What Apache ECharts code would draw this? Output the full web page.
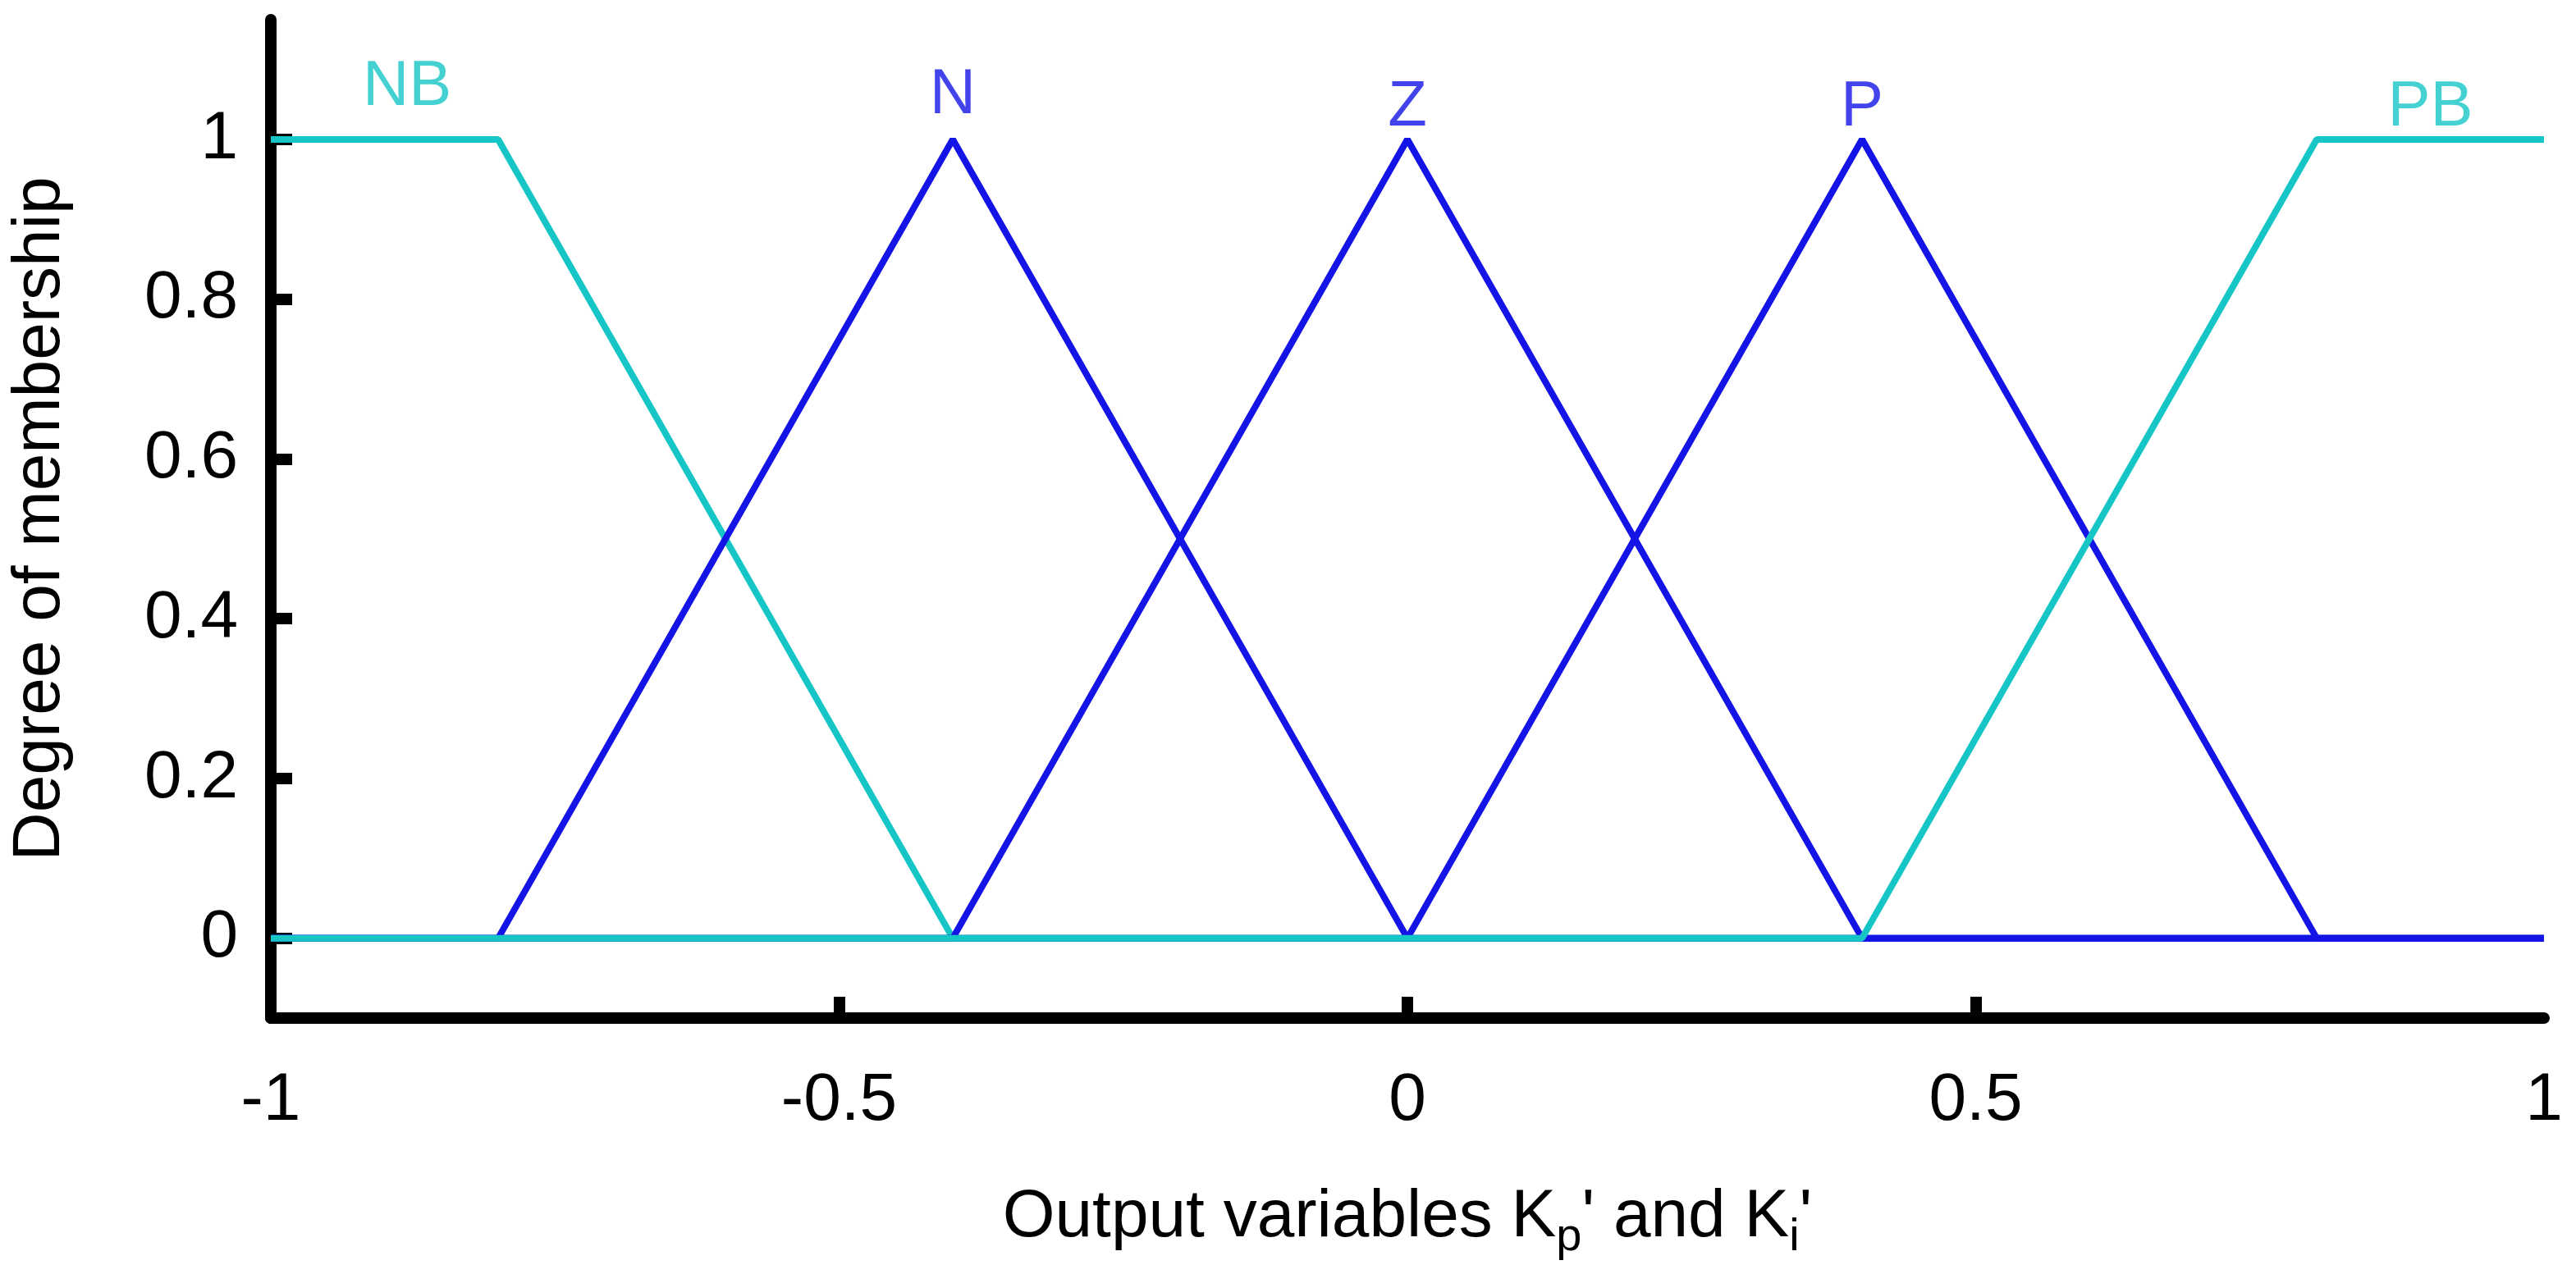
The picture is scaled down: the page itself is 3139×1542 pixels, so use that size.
<!DOCTYPE html><html><head><meta charset="utf-8">
<script src="https://cdn.jsdelivr.net/npm/echarts@6/dist/echarts.min.js"></script>
<style>html,body{margin:0;background:#fff}#c{width:3139px;height:1542px}</style></head><body><div id="c"></div>
<script>
const NB = [[-1,1],[-0.8,1],[-0.4,0],[1,0]];
const N  = [[-1,0],[-0.8,0],[-0.4,1],[0,0],[1,0]];
const Z  = [[-1,0],[-0.4,0],[0,1],[0.4,0],[1,0]];
const P  = [[-1,0],[0,0],[0.4,1],[0.8,0],[1,0]];
const PB = [[-1,0],[0.4,0],[0.8,1],[1,1]];
const labels = [['NB',-0.88,1.065,'cyan'],['N',-0.4,1.055,'blue'],['Z',0,1.04,'blue'],['P',0.4,1.04,'blue'],['PB',0.9,1.04,'cyan']];
const xTicks = [-1,-0.5,0,0.5,1];
const yTicks = [0,0.2,0.4,0.6,0.8,1];
const C = {cyan:'#16C6C6', blue:'#1414E6'};
const font = 'Liberation Sans, Arial, sans-serif';
function line(d,c){return {type:'line',data:d,symbol:'none',lineStyle:{color:C[c],width:8},silent:true};}
const chart = echarts.init(document.getElementById('c'));
chart.setOption({
  animation:false,
  grid:{left:316,right:39,top:24,bottom:292},
  xAxis:{type:'value',min:-1,max:1,
    axisLine:{show:true,onZero:false,lineStyle:{color:'#000',width:14}},
    axisTick:{show:true,inside:true,length:26,lineStyle:{color:'#000',width:14},customValues:[-0.5,0,0.5]},
    axisLabel:{customValues:xTicks,fontSize:82,color:'#000',fontFamily:font,margin:60},
    splitLine:{show:false},
    name:"{n|Output variables K}{s|p}{n|' and K}{s|i}{n|'}",nameLocation:'middle',nameGap:190,
    nameTextStyle:{rich:{n:{fontSize:82,color:'#000',fontFamily:font},s:{fontSize:56,color:'#000',fontFamily:font,padding:[50,0,0,0]}}}},
  yAxis:{type:'value',min:-0.1,max:1.15,
    axisLine:{show:true,onZero:false,lineStyle:{color:'#000',width:14}},
    axisTick:{show:true,inside:true,length:26,lineStyle:{color:'#000',width:14},customValues:yTicks},
    axisLabel:{customValues:yTicks,fontSize:82,color:'#000',fontFamily:font,margin:40},
    splitLine:{show:false},
    name:'Degree of membership',nameLocation:'middle',nameGap:240,
    nameTextStyle:{fontSize:82,color:'#000',fontFamily:font}},
  series:[line(NB,'cyan'),line(N,'blue'),line(Z,'blue'),line(P,'blue'),line(PB,'cyan'),
    {type:'scatter',symbolSize:0,silent:true,data:labels.map(l=>({value:[l[1],l[2]],
      label:{show:true,position:'inside',formatter:l[0],fontSize:78,fontFamily:font,color:C[l[3]]}}))}]
});
</script></body></html>
